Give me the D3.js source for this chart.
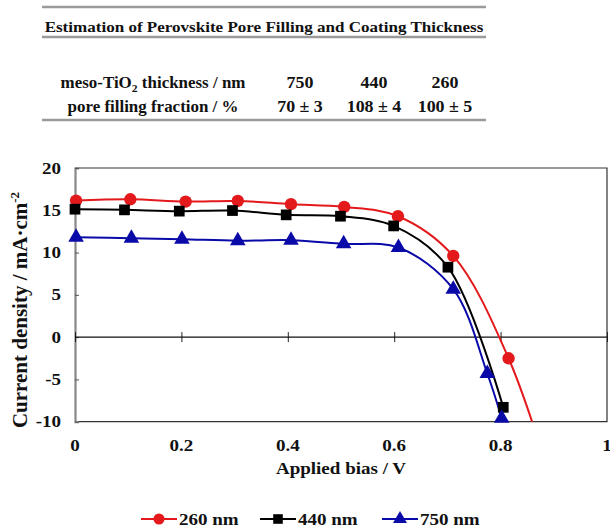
<!DOCTYPE html>
<html>
<head>
<meta charset="utf-8">
<script src="https://cdn.jsdelivr.net/npm/d3@7"></script>
<style>
  body { margin: 0; background: #fff; }
  text { font-family: "Liberation Serif", "Times New Roman", serif; font-weight: bold; fill: #111; }
</style>
</head>
<body>
<div id="chart"></div>
<script>
// table values
const tableTitle = "Estimation of Perovskite Pore Filling and Coating Thickness";
const thicknessNm = ["750", "440", "260"];
const poreFilling = ["70 ± 3", "108 ± 4", "100 ± 5"];

// J-V curves (bias in V, current density in mA/cm2)
const bias260 = [0.002, 0.104, 0.208, 0.306, 0.406, 0.506, 0.607, 0.711, 0.815, 0.9];
const j260 = [16.15, 16.3, 16.03, 16.1, 15.72, 15.4, 14.3, 9.6, -2.5, -18];
const bias440 = [0, 0.093, 0.196, 0.296, 0.397, 0.499, 0.599, 0.701, 0.805];
const j440 = [15.13, 15.05, 14.9, 14.97, 14.46, 14.3, 13.15, 8.27, -8.3];
const bias750 = [0.002, 0.106, 0.201, 0.306, 0.406, 0.505, 0.608, 0.711, 0.775, 0.802];
const j750 = [11.8, 11.7, 11.58, 11.4, 11.46, 11.03, 10.6, 5.67, -4.3, -9.6];

const seriesNames = ["260 nm", "440 nm", "750 nm"];
const xTicks = [0, 0.2, 0.4, 0.6, 0.8, 1];
const yTicks = [-10, -5, 0, 5, 10, 15, 20];

function zip(xs, ys) {
  return xs.map((x, i) => ({ x: x, y: ys[i] }));
}

const series = [
  { name: seriesNames[0], color: "#e3191c", symbol: d3.symbolCircle, size: 120, data: zip(bias260, j260) },
  { name: seriesNames[1], color: "#000000", symbol: d3.symbolSquare, size: 115, data: zip(bias440, j440) },
  { name: seriesNames[2], color: "#0a0aa8", symbol: d3.symbolTriangle, size: 105, data: zip(bias750, j750) },
];

const width = 610;
const height = 528;
// the source picture's lettering is a little wider than Times
const stretch = 1.12;

let svg = d3
  .select("#chart")
  .append("svg")
  .attr("width", width)
  .attr("height", height);

// place a text selection at (x, y) with horizontal stretch
function place(sel, fx, fy, sx) {
  sel.attr("transform", (d, i) => {
    let px = typeof fx === "function" ? fx(d, i) : fx;
    let py = typeof fy === "function" ? fy(d, i) : fy;
    return `translate(${px},${py}) scale(${sx || stretch},1)`;
  });
  return sel;
}

drawTable();
drawChart();

function drawTable() {
  let rules = [7, 37, 120];
  svg
    .selectAll("line.rule")
    .data(rules)
    .enter()
    .append("line")
    .attr("class", "rule")
    .attr("x1", 42)
    .attr("x2", 486)
    .attr("y1", (d) => d)
    .attr("y2", (d) => d)
    .attr("stroke", "#9a9a9a")
    .attr("stroke-width", 2.5);

  place(svg.append("text"), 264, 32, 1.1)
    .attr("text-anchor", "middle")
    .style("font-size", "15.5px")
    .text(tableTitle);

  let row1 = place(svg.append("text"), 153, 88, 1.06)
    .attr("text-anchor", "middle")
    .style("font-size", "16px");
  row1.append("tspan").text("meso-TiO");
  row1.append("tspan").attr("dy", 4).style("font-size", "11px").text("2");
  row1.append("tspan").attr("dy", -4).text(" thickness / nm");

  place(svg.append("text"), 153, 112, 1.06)
    .attr("text-anchor", "middle")
    .style("font-size", "16px")
    .text("pore filling fraction / %");

  let cols = [300, 374, 445];
  place(
    svg.selectAll("text.thick").data(thicknessNm).enter().append("text").attr("class", "thick"),
    (d, i) => cols[i], 88, 1.12)
    .attr("text-anchor", "middle")
    .style("font-size", "16px")
    .text((d) => d);

  place(
    svg.selectAll("text.fill").data(poreFilling).enter().append("text").attr("class", "fill"),
    (d, i) => cols[i], 112, 1.12)
    .attr("text-anchor", "middle")
    .style("font-size", "16px")
    .text((d) => d);
}

function drawChart() {
  const left = 75, right = 607, top = 168, bottom = 421.7;

  let x = d3.scaleLinear().domain([0, 1]).range([left, right]);
  let y = d3.scaleLinear().domain([-10, 20]).range([bottom, top]);

  svg.append("clipPath")
    .attr("id", "plotClip")
    .append("rect")
    .attr("x", left)
    .attr("y", top)
    .attr("width", right - left)
    .attr("height", bottom - top);

  // frame
  svg.append("path")
    .attr("d", `M${left},${top}H${right}V${bottom}H${left}`)
    .attr("fill", "none")
    .attr("stroke", "#333")
    .attr("stroke-width", 1.2);

  // y axis with inner ticks
  let yAxis = d3.axisRight(y).tickValues(yTicks).tickSize(4).tickFormat("");
  let gy = svg.append("g").attr("transform", `translate(${left},0)`).call(yAxis);
  gy.select(".domain").attr("stroke", "#888").attr("stroke-width", 2.2);
  gy.selectAll(".tick line").attr("stroke", "#555");

  place(
    svg.selectAll("text.ytick").data(yTicks).enter().append("text").attr("class", "ytick"),
    61, (d) => y(d) + 5.5)
    .attr("text-anchor", "end")
    .style("font-size", "17px")
    .text((d) => d);

  // x axis on the zero line, ticks crossing it
  let xAxis = d3.axisBottom(x).tickValues(xTicks).tickSize(5).tickFormat("");
  let gx = svg.append("g").attr("transform", `translate(0,${y(0)})`).call(xAxis);
  gx.select(".domain").remove();
  gx.append("line")
    .attr("x1", left)
    .attr("x2", right)
    .attr("stroke", "#111")
    .attr("stroke-width", 1.2);
  gx.selectAll(".tick line").attr("y1", -5).attr("y2", 5).attr("stroke", "#222");

  place(
    svg.selectAll("text.xtick").data(xTicks).enter().append("text").attr("class", "xtick"),
    (d) => x(d), 451)
    .attr("text-anchor", "middle")
    .style("font-size", "17px")
    .text((d) => d);

  place(svg.append("text"), 341, 474)
    .attr("text-anchor", "middle")
    .style("font-size", "17px")
    .text("Applied bias / V");

  let yl = svg.append("text")
    .attr("transform", "translate(27,310) rotate(-90)")
    .attr("text-anchor", "middle")
    .style("font-size", "21px");
  yl.append("tspan").text("Current density / mA·cm");
  yl.append("tspan").attr("dy", -8).style("font-size", "13px").text("-2");

  let line = d3.line()
    .x((d) => x(d.x))
    .y((d) => y(d.y))
    .curve(d3.curveCatmullRom.alpha(0.5));

  let plot = svg.append("g");
  plot.selectAll("path.curve")
    .data(series)
    .enter()
    .append("path")
    .attr("class", "curve")
    .attr("clip-path", "url(#plotClip)")
    .attr("d", (s) => line(s.data))
    .attr("fill", "none")
    .attr("stroke", (s) => s.color)
    .attr("stroke-width", 2);

  series.forEach((s) => {
    plot.selectAll(null)
      .data(s.data.filter((d) => d.y >= -10.5))
      .enter()
      .append("path")
      .attr("transform", (d) => `translate(${x(d.x)},${y(d.y)})`)
      .attr("d", d3.symbol().type(s.symbol).size(s.size))
      .attr("fill", s.color);
  });

  // legend
  let legendX = [141, 260, 382];
  let legend = svg.selectAll("g.legend")
    .data(series)
    .enter()
    .append("g")
    .attr("class", "legend")
    .attr("transform", (s, i) => `translate(${legendX[i]},519)`);
  legend.append("line")
    .attr("x1", 0)
    .attr("x2", 36)
    .attr("stroke", (s) => s.color)
    .attr("stroke-width", 2);
  legend.append("path")
    .attr("transform", "translate(18,0)")
    .attr("d", (s) => d3.symbol().type(s.symbol).size(s.size * 0.8)())
    .attr("fill", (s) => s.color);
  place(legend.append("text"), 38, 6)
    .style("font-size", "17px")
    .text((s) => s.name);
}
</script>
</body>
</html>
